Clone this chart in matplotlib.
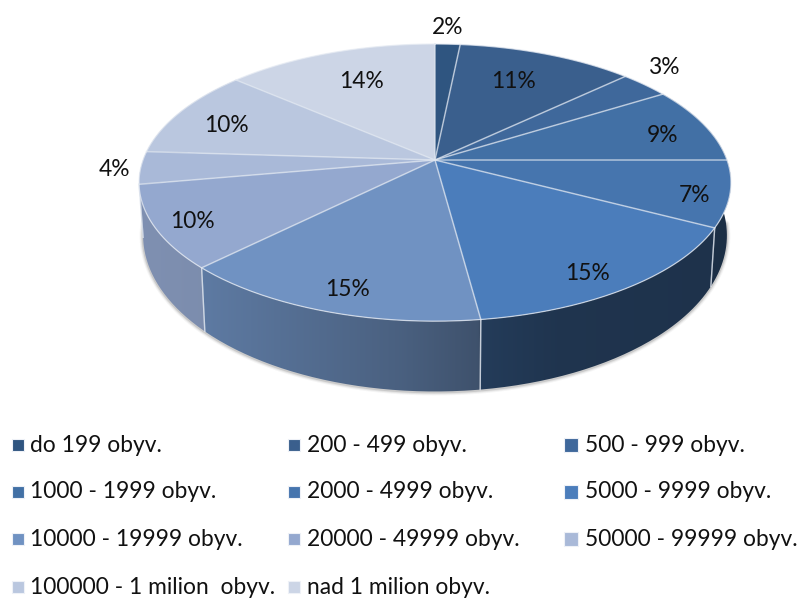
import numpy as np
import matplotlib
matplotlib.use("Agg")
import matplotlib.pyplot as plt
from matplotlib.patches import Polygon, Rectangle, PathPatch
from matplotlib.path import Path

# ---- data ----
categories = ["do 199 obyv.", "200 - 499 obyv.", "500 - 999 obyv.",
              "1000 - 1999 obyv.", "2000 - 4999 obyv.", "5000 - 9999 obyv.",
              "10000 - 19999 obyv.", "20000 - 49999 obyv.", "50000 - 99999 obyv.",
              "100000 - 1 milion  obyv.", "nad 1 milion obyv."]
shares = [1.6, 11.3, 3.2, 8.9, 7.7, 15.2, 14.6, 9.7, 3.8, 10.4, 13.6]
value_labels = ["2%", "11%", "3%", "9%", "7%", "15%", "15%", "10%", "4%", "10%", "14%"]
colors = ["#2f5580", "#3a5f8d", "#3f689b", "#4270a5", "#4675ae", "#4b7dbb",
          "#7092c2", "#94a8cf", "#a9b9d8", "#bac7df", "#ccd5e6"]

# ---- layout (pixel coordinates) ----
W, H = 800, 599
CX = 435
K = 0.163
TOP = dict(a=292.0, b=134.9, y0=160.0)
BOT = dict(a=288.0, b=151.9, y0=210.0)
LABEL_XY = [(448, 27), (513, 81), (665, 68), (663, 136), (695, 195), (587, 273),
            (347, 290), (192, 221), (114, 170), (226, 125), (361, 81)]
LEG_X = [(12, 30), (288, 307), (564, 585)]
LEG_Y = [445, 492, 539, 587]
FONT = "Lato"
FS = 16.4
# wall darkness as function of x
SHADE_X = [130, 200, 300, 400, 478, 482, 560, 740]
SHADE_V = [0.86, 0.84, 0.75, 0.66, 0.56, 0.48, 0.42, 0.40]


def project(theta, d):
    u, v = np.sin(theta), np.cos(theta)
    den = 1 + K * v
    return CX + d["a"] * u / den, d["y0"] - d["b"] * v / den


fig = plt.figure(figsize=(W / 100, H / 100), dpi=100)
ax = fig.add_axes([0, 0, 1, 1])
ax.axis("off")

edges = np.concatenate([[0], np.cumsum(shares)]) / np.sum(shares) * 2 * np.pi
mids = (edges[:-1] + edges[1:]) / 2

# soft shadow round the wall
tt = np.linspace(np.radians(95), np.radians(268), 200)
sx, sy = project(tt, BOT)
for lw, al in [(5, 0.06), (3.5, 0.10), (2, 0.18)]:
    ax.plot(sx, sy + 0.5, color="#555555", lw=lw, alpha=al, solid_capstyle="round", zorder=1)

# walls
xgrid = np.linspace(130, 740, 611)
shade = np.interp(xgrid, SHADE_X, SHADE_V)
for i in np.argsort(-np.cos(mids)):
    t = np.linspace(edges[i], edges[i + 1], 80)
    if np.all(np.cos(t) > 0.2):
        continue
    xt, yt = project(t, TOP)
    xb, yb = project(t, BOT)
    poly = np.vstack([np.c_[xt, yt], np.c_[xb, yb][::-1]])
    rgb = np.array(matplotlib.colors.to_rgb(colors[i]))
    img = rgb[None, None, :] * shade[None, :, None]
    im = ax.imshow(img, extent=(130, 740, 400, 40), aspect="auto",
                   zorder=2 - 0.001 * np.cos(mids[i]), interpolation="bilinear")
    patch = PathPatch(Path(poly), transform=ax.transData, fc="none", ec="none")
    ax.add_patch(patch)
    im.set_clip_path(patch)
    for e in (edges[i], edges[i + 1]):
        if np.pi / 2 + 0.3 < e < 3 * np.pi / 2 - 0.05:
            x0, y0 = project(e, TOP)
            x1, y1 = project(e, BOT)
            ax.plot([x0, x1], [y0, y1], color="#dfe5ee", lw=1.0, alpha=0.55, zorder=3)

# top face
px, py = CX, TOP["y0"]
for i in range(len(shares)):
    t = np.linspace(edges[i], edges[i + 1], 120)
    xt, yt = project(t, TOP)
    ax.add_patch(Polygon(np.vstack([[px, py], np.c_[xt, yt]]), closed=True,
                         fc=colors[i], ec="none", zorder=4))
for e in edges[:-1]:
    xe, ye = project(e, TOP)
    ax.plot([px, xe], [py, ye], color="#dfe6f0", lw=1.1, alpha=0.7, zorder=5)
tt = np.linspace(0, 2 * np.pi, 500)
xo, yo = project(tt, TOP)
ax.plot(xo, yo, color="#e6ebf3", lw=0.9, alpha=0.75, zorder=5)

# value labels
for (lx, ly), s in zip(LABEL_XY, value_labels):
    ax.text(lx, ly, s, ha="center", va="center", family=FONT, fontsize=FS, color="#111111", zorder=6)

# legend
for i, c in enumerate(categories):
    row, col = i // 3, i % 3
    mx, tx = LEG_X[col]
    y = LEG_Y[row]
    side = 12 if col < 2 else 14
    ax.add_patch(Rectangle((mx, y - side / 2), side, side, fc=colors[i], ec="#eef1f7", lw=0.8, zorder=6))
    ax.text(tx, y, c, ha="left", va="center", family=FONT, fontsize=FS, color="#111111", zorder=6)

ax.set_xlim(0, W)
ax.set_ylim(H, 0)
fig.savefig("out.png", dpi=100)
